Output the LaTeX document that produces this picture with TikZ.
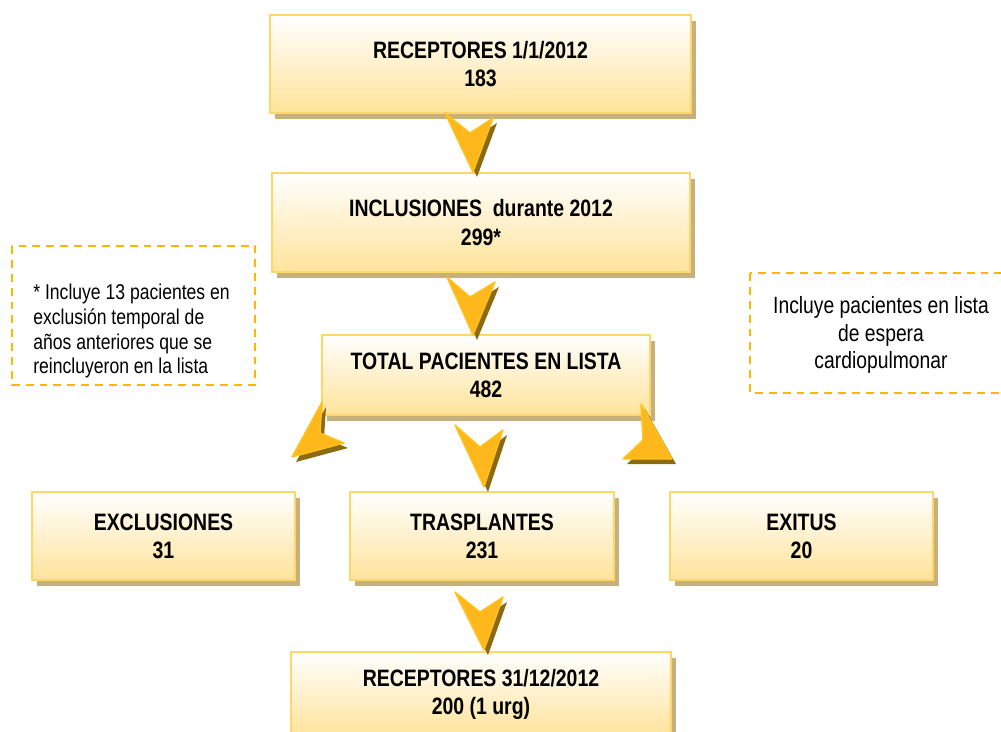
\documentclass[tikz,border=0pt]{standalone}
\usepackage{fontspec}
\setmainfont{Liberation Sans}[FakeStretch=0.82]
\usetikzlibrary{shadows}

\definecolor{boxline}{HTML}{FFD766}
\definecolor{boxyellow}{HTML}{FFE39A}
\definecolor{shadowtan}{HTML}{C6B07E}
\definecolor{notegold}{HTML}{FFB600}
\definecolor{arrowgold}{HTML}{FFB81C}
\definecolor{arrowedge}{HTML}{FFC21A}
\definecolor{arrowshadow}{HTML}{8C6A12}

\tikzset{
  stagebox/.style={draw=boxline, line width=1.4pt, top color=white, bottom color=boxyellow,
    drop shadow={opacity=1, fill=shadowtan, shadow xshift=0.1cm, shadow yshift=-0.12cm},
    align=center, inner sep=0pt, font=\fontsize{13.5}{16}\selectfont\bfseries},
  notebox/.style={draw=notegold, line width=1.4pt, dash pattern=on 4.5pt off 3.4pt},
  chevron/.style={fill=arrowgold, draw=arrowedge, line width=0.8pt, line join=round},
  chevronshadow/.style={fill=arrowshadow},
}

% down-pointing arrow shape: corner, notch, corner, tip
\newcommand\chevronarrow[4]{%
  \fill[chevronshadow] ([shift={(4,5)}]#1) -- ([shift={(4,5)}]#2) -- ([shift={(4,5)}]#3) -- ([shift={(4,5)}]#4) -- cycle;
  \draw[chevron] (#1) -- (#2) -- (#3) -- (#4) -- cycle;}

\begin{document}
\begin{tikzpicture}[x=0.02cm, y=-0.02cm]
  \useasboundingbox (0,0) rectangle (1001,731);

  % notes
  \draw[notebox] (12,246) rectangle (255,385);
  \node[anchor=west, align=left, inner sep=0pt, font=\fontsize{12.2}{14.2}\selectfont] (notaizq) at (33,331)
    {* Incluye 13 pacientes en\\exclusión temporal de\\años anteriores que se\\reincluyeron en la lista};
  \draw[notebox] (750,273) rectangle (1006,393);
  \node[align=center, inner sep=0pt, font=\fontsize{13.4}{15.6}\selectfont] (notader) at (881,335)
    {Incluye pacientes en lista\\de espera\\cardiopulmonar};

  % boxes
  \node[stagebox, minimum width=8.42cm, minimum height=1.96cm] (recini) at (480.5,64)
    {RECEPTORES 1/1/2012\\183};
  \node[stagebox, minimum width=8.36cm, minimum height=1.98cm] (inclus) at (481,222.5)
    {INCLUSIONES\ \ durante 2012\\299*};
  \node[stagebox, minimum width=6.56cm, minimum height=1.6cm] (total) at (486,375)
    {TOTAL PACIENTES EN LISTA\\482};
  \node[stagebox, minimum width=5.26cm, minimum height=1.76cm] (exclus) at (163.5,536)
    {EXCLUSIONES\\31};
  \node[stagebox, minimum width=5.28cm, minimum height=1.76cm] (traspl) at (482,536)
    {TRASPLANTES\\231};
  \node[stagebox, minimum width=5.26cm, minimum height=1.76cm] (exitus) at (801.5,536)
    {EXITUS\\20};
  \node[stagebox, minimum width=7.6cm, minimum height=1.68cm] (recfin) at (481,694)
    {RECEPTORES 31/12/2012\\200 (1 urg)};

  % arrows
  \chevronarrow{445,113}{470,133}{493,118}{473,172}
  \chevronarrow{447,277}{470,297}{495,282}{473,335}
  \chevronarrow{455,425}{480,447}{503,430}{484,487}
  \chevronarrow{455,592}{480,612}{503,597}{484,650}
  \chevronarrow{322,402}{320,433}{344,443}{292,457}
  \chevronarrow{641,404}{643,440}{623,459}{672,459}

\end{tikzpicture}
\end{document}
